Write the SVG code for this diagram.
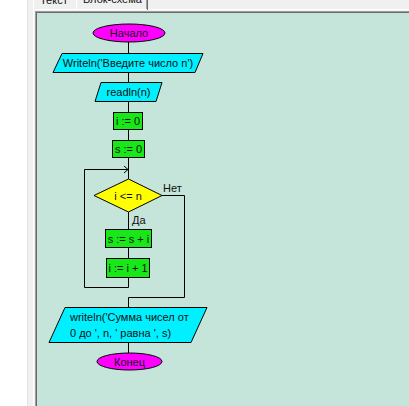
<svg xmlns="http://www.w3.org/2000/svg" width="409" height="406" viewBox="0 0 409 406">
<style>
text{font-family:"Liberation Sans",Arial,sans-serif;font-size:11px;fill:#111}
.c{text-anchor:middle}
.s{stroke:#000;stroke-width:1}
.term{fill:#ff00ff}
.io{fill:#00f0ff}
.proc{fill:#18e818}
.dec{fill:#ffff00}
.ln{fill:none;stroke:#000;stroke-width:1}
</style>
<defs>
<marker id="chev" markerWidth="6" markerHeight="8" refX="5" refY="4" orient="auto" markerUnits="userSpaceOnUse">
<path d="M1,0.5 L5,4 L1,7.5" fill="none" stroke="#000" stroke-width="1"/>
</marker>
</defs>
<g id="window">
<rect x="0" y="0" width="409" height="406" fill="#f0f0f0"/>
<rect x="0" y="0" width="27" height="406" fill="#ffffff"/>
<line x1="27.5" y1="0" x2="27.5" y2="406" stroke="#e3e3e3"/>
<line x1="33" y1="9.5" x2="409" y2="9.5" stroke="#ffffff"/>
<line x1="33.5" y1="0" x2="33.5" y2="406" stroke="#ffffff"/>
<line x1="76.5" y1="0" x2="76.5" y2="9" stroke="#ffffff"/>
<line x1="146.5" y1="0" x2="146.5" y2="9" stroke="#a0a0a0"/>
<line x1="147.5" y1="0" x2="147.5" y2="10" stroke="#696969"/>
<text x="40" y="4">Текст</text>
<text x="83" y="3">Блок-схема</text>
<line x1="35" y1="11.5" x2="409" y2="11.5" stroke="#a0a0a0"/>
<line x1="35.5" y1="11" x2="35.5" y2="406" stroke="#a0a0a0"/>
<line x1="36" y1="12.5" x2="409" y2="12.5" stroke="#696969"/>
<line x1="36.5" y1="12" x2="36.5" y2="406" stroke="#696969"/>
<rect x="37" y="13" width="372" height="393" fill="#c5e5da"/>
</g>
<g id="connectors">
<line class="ln" x1="128.5" y1="42" x2="128.5" y2="53"/>
<line class="ln" x1="128.5" y1="72" x2="128.5" y2="82"/>
<line class="ln" x1="128.5" y1="101" x2="128.5" y2="112"/>
<line class="ln" x1="128.5" y1="129" x2="128.5" y2="140"/>
<line class="ln" x1="128.5" y1="157" x2="128.5" y2="179"/>
<line class="ln" x1="128.5" y1="212" x2="128.5" y2="229"/>
<line class="ln" x1="128.5" y1="247" x2="128.5" y2="258"/>
<polyline class="ln" points="128.5,277 128.5,287.5 84.5,287.5 84.5,169.5 128,169.5" marker-end="url(#chev)"/>
<polyline class="ln" points="162,195.5 184.5,195.5 184.5,297.5 128.5,297.5 128.5,307"/>
<line class="ln" x1="128.5" y1="342" x2="128.5" y2="353"/>
<text x="163" y="192">Нет</text>
<text x="132" y="224">Да</text>
</g>
<g id="start">
<ellipse class="term s" cx="129" cy="33" rx="36" ry="9"/>
<text class="c" x="129" y="37">Начало</text>
</g>
<g id="input_prompt">
<polygon class="io s" points="62,53.5 203,53.5 195,72.5 53,72.5"/>
<text class="c" x="128" y="67">Writeln('Введите число n')</text>
</g>
<g id="read_n">
<polygon class="io s" points="101,82.5 162,82.5 156,101.5 95,101.5"/>
<text class="c" x="128.5" y="96">readln(n)</text>
</g>
<g id="init_i">
<rect class="proc s" x="113.5" y="112.5" width="29" height="17"/>
<text class="c" x="128" y="125">i := 0</text>
</g>
<g id="init_s">
<rect class="proc s" x="112.5" y="140.5" width="32" height="17"/>
<text class="c" x="128.5" y="153">s := 0</text>
</g>
<g id="cond">
<polygon class="dec s" points="128.5,179 162,195.5 128.5,212 94,195.5"/>
<text class="c" x="128" y="199.5">i &lt;= n</text>
</g>
<g id="sum">
<rect class="proc s" x="105.5" y="229.5" width="46" height="18"/>
<text class="c" x="128.5" y="242.5">s := s + i</text>
</g>
<g id="inc">
<rect class="proc s" x="106.5" y="258.5" width="43" height="19"/>
<text class="c" x="128" y="272">i := i + 1</text>
</g>
<g id="output">
<polygon class="io s" points="65,307.5 207,307.5 191,342.5 49,342.5"/>
<text x="70" y="320.5">writeln('Сумма чисел от</text>
<text x="70" y="337">0 до ', n, ' равна ', s)</text>
</g>
<g id="end">
<ellipse class="term s" cx="129.5" cy="361.5" rx="32.5" ry="8.5"/>
<text class="c" x="129.5" y="365.5">Конец</text>
</g>
</svg>
